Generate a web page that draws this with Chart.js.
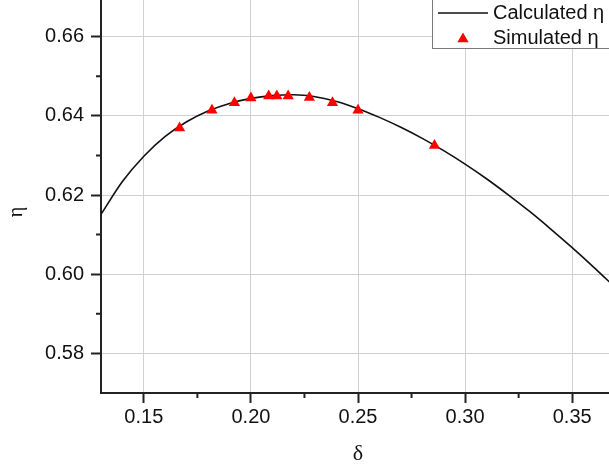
<!DOCTYPE html>
<html>
<head>
<meta charset="utf-8">
<script src="https://cdn.jsdelivr.net/npm/chart.js@4.4.1/dist/chart.umd.min.js"></script>
<style>
  html, body { margin: 0; padding: 0; background: #fff; }
  #wrap { position: relative; width: 609px; height: 472px; overflow: hidden; }
  #etaChart { position: absolute; left: 0; top: -3px; }
</style>
</head>
<body>
<div id="wrap"><canvas id="etaChart" width="615" height="475"></canvas></div>
<script>
// calculated curve
const curveDelta = [0.13, 0.14, 0.15, 0.16, 0.17, 0.18, 0.19, 0.20, 0.21, 0.22, 0.23, 0.24, 0.25,
                    0.26, 0.27, 0.28, 0.29, 0.30, 0.31, 0.32, 0.33, 0.34, 0.35, 0.36, 0.37];
const curveEta = [0.6151, 0.6234, 0.6298, 0.6348, 0.6385, 0.6412, 0.6431, 0.6444, 0.6451, 0.6453,
                  0.6448, 0.6436, 0.6418, 0.6396, 0.6371, 0.6343, 0.6312, 0.6278, 0.6241, 0.6201,
                  0.6159, 0.6114, 0.6067, 0.6018, 0.5967];

// simulated points (triangles)
const simDelta = [0.1667, 0.1818, 0.1923, 0.2000, 0.2083, 0.2121, 0.2174, 0.2273, 0.2381, 0.2500, 0.2857];
const simEta = [0.6369, 0.6414, 0.6433, 0.6445, 0.6450, 0.6450, 0.6450, 0.6446, 0.6433, 0.6414, 0.6325];

const deltaTicks = [0.15, 0.20, 0.25, 0.30, 0.35];
const deltaMinor = [0.175, 0.225, 0.275, 0.325];
const etaTicks = [0.58, 0.60, 0.62, 0.64, 0.66];
const etaMinor = [0.59, 0.61, 0.63, 0.65];

const tickFont = { family: 'Liberation Sans', size: 20 };

// short minor tick marks on both axes
const minorTicks = {
    id: 'minorTicks',
    afterDraw(chart) {
        const { ctx, chartArea, scales } = chart;
        ctx.save();
        ctx.strokeStyle = '#222';
        ctx.lineWidth = 2;
        ctx.beginPath();
        deltaMinor.forEach(v => {
            const x = scales.x.getPixelForValue(v);
            ctx.moveTo(x, chartArea.bottom);
            ctx.lineTo(x, chartArea.bottom + 5);
        });
        etaMinor.forEach(v => {
            const y = scales.y.getPixelForValue(v);
            ctx.moveTo(chartArea.left, y);
            ctx.lineTo(chartArea.left - 5, y);
        });
        ctx.stroke();
        ctx.restore();
    }
};

// y axis title sits a bit below the middle in the original
const etaTitle = {
    id: 'etaTitle',
    afterDraw(chart) {
        const ctx = chart.ctx;
        ctx.save();
        ctx.translate(22, 215);
        ctx.rotate(-Math.PI / 2);
        ctx.fillStyle = '#111';
        ctx.font = '20px "Liberation Serif"';
        ctx.textAlign = 'center';
        ctx.textBaseline = 'alphabetic';
        ctx.fillText('η', 0, 0);
        ctx.restore();
    }
};

// boxed legend in the top right corner, cut by the edge like the original
const boxLegend = {
    id: 'boxLegend',
    afterDraw(chart) {
        const ctx = chart.ctx;
        const sets = chart.data.datasets;
        const line = sets.find(d => d.pointRadius === 0);
        const sim = sets.find(d => d.pointStyle === 'triangle');
        ctx.save();
        ctx.fillStyle = '#fff';
        ctx.strokeStyle = '#7a7a7a';
        ctx.lineWidth = 1;
        ctx.fillRect(432, -5, 300, 56);
        ctx.strokeRect(432.5, -5, 300, 56.5);

        ctx.strokeStyle = line.borderColor;
        ctx.lineWidth = line.borderWidth;
        ctx.beginPath();
        ctx.moveTo(438, 16);
        ctx.lineTo(488, 16);
        ctx.stroke();

        const opts = { pointStyle: 'triangle', radius: sim.pointRadius, borderWidth: 0, rotation: 0 };
        ctx.fillStyle = sim.backgroundColor;
        ctx.strokeStyle = sim.backgroundColor;
        Chart.helpers.drawPoint(ctx, opts, 463, 42);

        ctx.fillStyle = '#111';
        ctx.font = '20px "Liberation Sans"';
        ctx.textAlign = 'left';
        ctx.textBaseline = 'middle';
        ctx.fillText(line.label, 493, 16);
        ctx.fillText(sim.label, 493, 41);
        ctx.restore();
    }
};

new Chart(document.getElementById('etaChart'), {
    type: 'scatter',
    data: {
        datasets: [
            {
                label: 'Simulated η',
                data: simDelta.map((d, i) => ({ x: d, y: simEta[i] })),
                pointStyle: 'triangle',
                pointRadius: 6.5,
                borderWidth: 0,
                backgroundColor: '#ff0000',
                borderColor: '#ff0000',
                order: 0
            },
            {
                label: 'Calculated η',
                type: 'line',
                data: curveDelta.map((d, i) => ({ x: d, y: curveEta[i] })),
                borderColor: '#111',
                borderWidth: 1.6,
                pointRadius: 0,
                cubicInterpolationMode: 'monotone',
                fill: false,
                order: 1
            }
        ]
    },
    options: {
        responsive: false,
        animation: false,
        devicePixelRatio: 1,
        layout: { padding: 0, autoPadding: false },
        plugins: { legend: { display: false }, tooltip: { enabled: false } },
        scales: {
            x: {
                type: 'linear',
                min: 0.13,
                max: 0.37,
                afterBuildTicks: s => { s.ticks = deltaTicks.map(v => ({ value: v })); },
                afterFit: s => { s.height = 79; s.paddingLeft = 0; s.paddingRight = 0; },
                grid: { color: '#d0d0d0', lineWidth: 1, tickLength: 10, tickWidth: 2, tickColor: '#222' },
                border: { color: '#222', width: 2 },
                ticks: {
                    color: '#111', font: tickFont, padding: 2, maxRotation: 0, autoSkip: false,
                    callback: v => v.toFixed(2)
                },
                title: {
                    display: true, text: 'δ', color: '#111',
                    font: { family: 'Liberation Serif', size: 22 },
                    padding: { top: 0, bottom: 5 }
                }
            },
            y: {
                type: 'linear',
                min: 0.57,
                max: 0.67,
                afterBuildTicks: s => { s.ticks = etaTicks.map(v => ({ value: v })); },
                afterFit: s => { s.width = 101; s.paddingTop = 0; s.paddingBottom = 0; },
                grid: { color: '#d0d0d0', lineWidth: 1, tickLength: 10, tickWidth: 2, tickColor: '#222' },
                border: { color: '#222', width: 2 },
                ticks: {
                    color: '#111', font: tickFont, padding: 7, autoSkip: false,
                    callback: v => v.toFixed(2)
                }
            }
        }
    },
    plugins: [minorTicks, etaTitle, boxLegend]
});
</script>
</body>
</html>
